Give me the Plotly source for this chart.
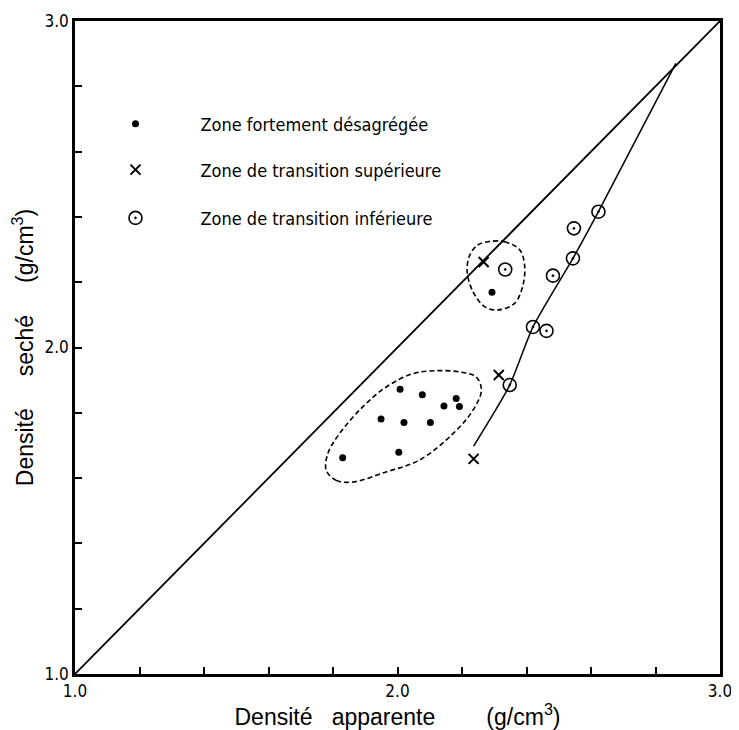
import plotly.graph_objects as go

# ---- data ----
dots_x = [2.293, 2.008, 2.077, 2.182, 2.144, 2.192, 1.949, 2.020, 2.102, 2.004, 1.830]
dots_y = [2.169, 1.872, 1.855, 1.844, 1.821, 1.819, 1.781, 1.770, 1.770, 1.679, 1.662]

cross_x = [2.267, 2.314, 2.236]
cross_y = [2.262, 1.916, 1.659]

circ_x = [2.334, 2.623, 2.547, 2.544, 2.482, 2.420, 2.462, 2.348]
circ_y = [2.239, 2.416, 2.365, 2.273, 2.220, 2.063, 2.051, 1.885]

diag_x = [1.0, 3.0]
diag_y = [1.0, 3.0]

trend_x = [2.236, 2.348, 2.420, 2.544, 2.623, 2.863]
trend_y = [1.698, 1.885, 2.063, 2.273, 2.416, 2.870]

big_x = [1.779, 1.810, 1.861, 1.965, 2.068, 2.172, 2.234, 2.260, 2.244, 2.193,
         2.120, 2.048, 1.965, 1.892, 1.820, 1.784, 1.779]
big_y = [1.624, 1.593, 1.588, 1.619, 1.655, 1.736, 1.808, 1.869, 1.910, 1.925,
         1.929, 1.920, 1.879, 1.818, 1.736, 1.675, 1.624]

small_x = [2.280, 2.332, 2.379, 2.394, 2.389, 2.363, 2.311, 2.270, 2.234, 2.216,
           2.224, 2.249, 2.280]
small_y = [2.324, 2.324, 2.299, 2.253, 2.191, 2.135, 2.115, 2.125, 2.171, 2.232,
           2.283, 2.314, 2.324]

labels = ["Zone fortement désagrégée",
          "Zone de transition supérieure",
          "Zone de transition inférieure"]

tick_vals = [1.0, 2.0, 3.0]
tick_text = ["1.0", "2.0", "3.0"]
minor_step = 0.2

NARROW = "DejaVu Sans Condensed, Liberation Sans Narrow, Arial Narrow, sans-serif"
TITLE = "Liberation Sans, Arial, sans-serif"

fig = go.Figure()

fig.add_trace(go.Scatter(x=diag_x, y=diag_y, mode="lines",
                         line=dict(color="black", width=1.8), showlegend=False,
                         hoverinfo="skip"))
fig.add_trace(go.Scatter(x=trend_x, y=trend_y, mode="lines",
                         line=dict(color="black", width=1.5, shape="spline", smoothing=0.6),
                         showlegend=False, hoverinfo="skip"))
fig.add_trace(go.Scatter(x=big_x, y=big_y, mode="lines",
                         line=dict(color="black", width=1.6, dash="5px,3px",
                                   shape="spline", smoothing=1.0),
                         showlegend=False, hoverinfo="skip"))
fig.add_trace(go.Scatter(x=small_x, y=small_y, mode="lines",
                         line=dict(color="black", width=1.6, dash="5px,3px",
                                   shape="spline", smoothing=1.0),
                         showlegend=False, hoverinfo="skip"))

fig.add_trace(go.Scatter(x=dots_x, y=dots_y, mode="markers", name=labels[0],
                         marker=dict(symbol="circle", size=7, color="black"),
                         legend="legend"))
fig.add_trace(go.Scatter(x=cross_x, y=cross_y, mode="markers", name=labels[1],
                         marker=dict(symbol="x-thin-open", size=10, color="black",
                                     line=dict(width=2, color="black")),
                         legend="legend2"))
fig.add_trace(go.Scatter(x=circ_x, y=circ_y, mode="markers", name=labels[2],
                         marker=dict(symbol="circle-open-dot", size=13, color="black",
                                     line=dict(width=1.6, color="black")),
                         legend="legend3"))

leg_common = dict(bgcolor="rgba(0,0,0,0)", borderwidth=0, itemwidth=120,
                  xanchor="left", yanchor="middle",
                  font=dict(family=NARROW, size=18, color="black"))
fig.update_layout(
    legend=dict(x=-0.007, y=0.842, **leg_common),
    legend2=dict(x=-0.007, y=0.772, **leg_common),
    legend3=dict(x=-0.007, y=0.698, **leg_common),
)

axis_common = dict(range=[1.0, 3.0], tickmode="array", tickvals=tick_vals,
                   ticktext=tick_text, ticks="inside", ticklen=7, tickwidth=1.5,
                   tickcolor="black", showline=True, linewidth=2.5, linecolor="black",
                   mirror=True, showgrid=False, zeroline=False, automargin=False,
                   minor=dict(dtick=minor_step, tick0=1.0, ticks="inside", ticklen=7,
                              tickwidth=1.5, tickcolor="black", showgrid=False),
                   tickfont=dict(family=NARROW, size=17, color="black"))

fig.update_xaxes(**axis_common,
                 title=dict(text="Densité\u00a0\u00a0 apparente\u00a0\u00a0\u00a0\u00a0\u00a0\u00a0\u00a0 (g/cm<sup>3</sup>)",
                            font=dict(family=TITLE, size=23, color="black"), standoff=2))
fig.update_yaxes(**axis_common,
                 title=dict(text="Densité\u00a0\u00a0\u00a0\u00a0 seché\u00a0\u00a0\u00a0\u00a0 (g/cm<sup>3</sup>)",
                            font=dict(family=TITLE, size=23, color="black"), standoff=6))

# the page body adds an 8 px margin; shrink the figure so the plot area
# lands at the reference's pixel position
fig.update_layout(
    width=731, height=722,
    margin=dict(l=67, r=19, t=13, b=56),
    paper_bgcolor="white", plot_bgcolor="white",
)

fig.write_html("out.html")
